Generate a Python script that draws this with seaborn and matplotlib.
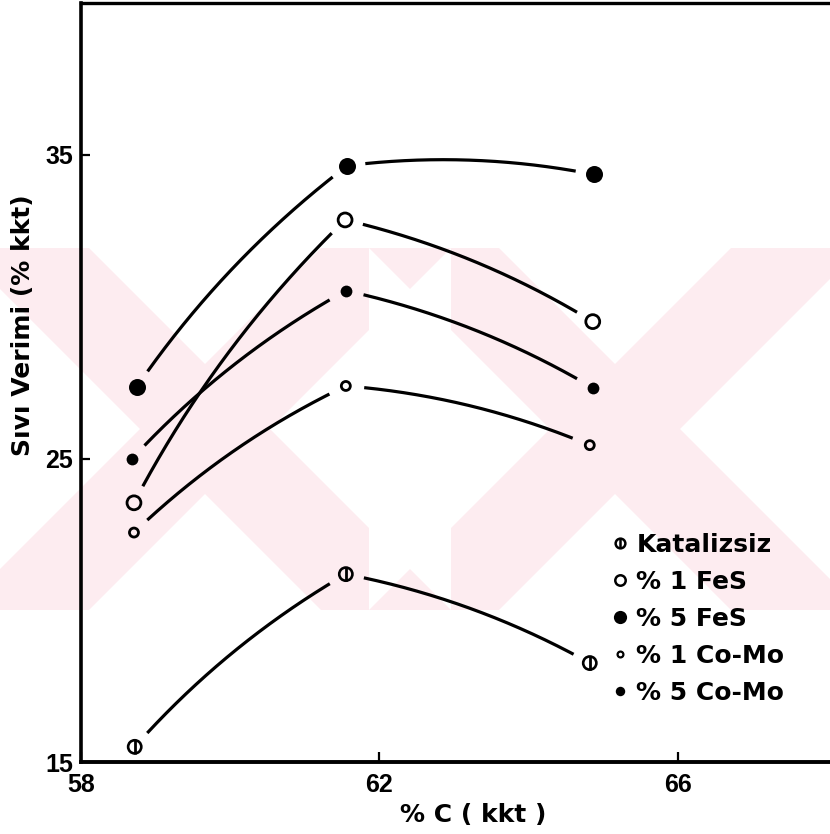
import numpy as np
import pandas as pd
import matplotlib
matplotlib.use("Agg")
import matplotlib.pyplot as plt
import seaborn as sns
from matplotlib.lines import Line2D
from matplotlib.patches import Polygon
from matplotlib.legend_handler import HandlerTuple

# ---------------- data ----------------
labels = ["Katalizsiz", "% 1 FeS", "% 5 FeS", "% 1 Co-Mo", "% 5 Co-Mo"]
x_katalizsiz = [58.72, 61.55, 64.82]
y_katalizsiz = [15.50, 21.19, 18.26]
x_fes1 = [58.71, 61.54, 64.86]
y_fes1 = [23.54, 32.86, 29.51]
x_fes5 = [58.75, 61.57, 64.87]
y_fes5 = [27.37, 34.65, 34.36]
x_como1 = [58.71, 61.55, 64.82]
y_como1 = [22.56, 27.39, 25.44]
x_como5 = [58.68, 61.55, 64.86]
y_como5 = [24.98, 30.53, 27.33]

x_ticks = [58, 62, 66]
y_ticks = [15, 25, 35]
x_label = "% C ( kkt )"
y_label = "Sıvı Verimi (% kkt)"

# ---------------- figure ----------------
sns.set_theme(style="white")
plt.rcParams["font.family"] = ["DejaVu Sans"]

W, H = 830, 834
fig = plt.figure(figsize=(W / 100, H / 100), dpi=100)
fig.patch.set_facecolor("white")

# faint watermark (two pink X shapes)
pink = "#fdecf0"
top, bot = 248, 610
def fpoly(pts, color, z):
    p = Polygon([(x / W, 1 - y / H) for x, y in pts], closed=True,
                transform=fig.transFigure, facecolor=color, edgecolor="none",
                zorder=z)
    fig.patches.append(p)

fpoly([(0, top), (W, top), (W, bot), (0, bot)], pink, 0)
cy = (top + bot) / 2
half = (bot - top) / 2
d = 65
for cx in (205, 615):
    a = cy - d - top
    fpoly([(cx, cy - d), (cx - a, top), (cx + a, top)], "white", 0.5)
    fpoly([(cx, cy + d), (cx - a, bot), (cx + a, bot)], "white", 0.5)
    fpoly([(cx + d, cy), (cx + d + half, top), (cx + d + half, bot)], "white", 0.5)
    fpoly([(cx - d, cy), (cx - d - half, top), (cx - d - half, bot)], "white", 0.5)

ax = fig.add_axes([81 / W, 1 - 762 / H, (W - 81) / W, (762 - 3) / H])
ax.set_zorder(2)
ax.set_facecolor("none")
ax.patch.set_alpha(0)
ax.set_xlim(58, 58 + 749 / 74.6)
ax.set_ylim(15, 15 + 759 / 30.35)

for side in ("left", "bottom", "top"):
    ax.spines[side].set_visible(True)
    ax.spines[side].set_color("black")
ax.spines["left"].set_linewidth(2.6)
ax.spines["bottom"].set_linewidth(2.8)
ax.spines["top"].set_linewidth(2.4)
ax.spines["right"].set_visible(False)

ax.set_xticks(x_ticks)
ax.set_yticks(y_ticks)
ax.set_xticklabels([str(v) for v in x_ticks])
ax.set_yticklabels([str(v) for v in y_ticks])
ax.tick_params(axis="x", direction="in", length=7, width=1.6, pad=8,
               colors="black", bottom=True, top=False)
ax.tick_params(axis="y", direction="in", length=6.5, width=1.6, pad=5.5,
               colors="black", left=True, right=False)
for t in ax.get_xticklabels() + ax.get_yticklabels():
    t.set_fontfamily(["Liberation Sans", "DejaVu Sans"])
    t.set_fontweight("bold")
    t.set_fontsize(18)

ax.set_xlabel(x_label, fontsize=18, fontweight="bold", color="black")
ax.set_ylabel(y_label, fontsize=18, fontweight="bold", color="black")
ax.xaxis.set_label_coords((473 - 81) / 749, (762 - 815) / 759)
ax.xaxis.label.set_va("center")
ax.yaxis.set_label_coords((23 - 81) / 749, (762 - 325) / 759)
ax.yaxis.label.set_va("center")
ax.yaxis.label.set_ha("center")

# ---------------- smooth hand-drawn style curves ----------------
def arc_curve(xs, ys, gap=18, sag_frac=0.04):
    pts = ax.transData.transform(np.column_stack([xs, ys]))
    for p0, p1 in zip(pts[:-1], pts[1:]):
        chord = p1 - p0
        L = np.hypot(*chord)
        n = np.array([-chord[1], chord[0]]) / L
        if n[1] < 0:
            n = -n
        ctrl = (p0 + p1) / 2 + n * 2 * sag_frac * L
        t = np.linspace(0, 1, 400)[:, None]
        b = (1 - t) ** 2 * p0 + 2 * (1 - t) * t * ctrl + t ** 2 * p1
        seg = np.hypot(*np.diff(b, axis=0).T)
        s = np.concatenate([[0], np.cumsum(seg)])
        keep = (s > gap) & (s < s[-1] - gap)
        dd = ax.transData.inverted().transform(b[keep])
        ax.plot(dd[:, 0], dd[:, 1], color="black", lw=2.3,
                solid_capstyle="butt", zorder=3)

for xs, ys in [(x_katalizsiz, y_katalizsiz), (x_fes1, y_fes1),
               (x_fes5, y_fes5), (x_como1, y_como1), (x_como5, y_como5)]:
    arc_curve(xs, ys)

# ---------------- markers ----------------
sns.scatterplot(x=x_katalizsiz, y=y_katalizsiz, marker="o", s=90,
                color="black", facecolor="none", edgecolor="black",
                linewidth=1.9, ax=ax, zorder=5)
sns.scatterplot(x=x_katalizsiz, y=y_katalizsiz, marker="|", s=95,
                color="black", linewidth=2.0, ax=ax, zorder=5)
sns.scatterplot(x=x_fes1, y=y_fes1, marker="o", s=100,
                color="black", facecolor="none", edgecolor="black",
                linewidth=2.0, ax=ax, zorder=5)
sns.scatterplot(x=x_fes5, y=y_fes5, marker="o", s=150,
                color="black", edgecolor="black", linewidth=0, ax=ax, zorder=5)
sns.scatterplot(x=x_como1, y=y_como1, marker="o", s=42,
                color="black", facecolor="none", edgecolor="black",
                linewidth=2.0, ax=ax, zorder=5)
sns.scatterplot(x=x_como5, y=y_como5, marker="o", s=72,
                color="black", edgecolor="black", linewidth=0, ax=ax, zorder=5)

# ---------------- legend ----------------
h_kat = (Line2D([], [], ls="none", marker="o", ms=7, mfc="none", mec="black", mew=1.8),
         Line2D([], [], ls="none", marker="|", ms=7.5, mec="black", mew=1.8))
h_fes1 = Line2D([], [], ls="none", marker="o", ms=7.5, mfc="none", mec="black", mew=1.8)
h_fes5 = Line2D([], [], ls="none", marker="o", ms=9.5, mfc="black", mec="black", mew=0)
h_como1 = Line2D([], [], ls="none", marker="o", ms=4.2, mfc="none", mec="black", mew=1.6)
h_como5 = Line2D([], [], ls="none", marker="o", ms=6.8, mfc="black", mec="black", mew=0)

leg = ax.legend([h_kat, h_fes1, h_fes5, h_como1, h_como5], labels,
                handler_map={tuple: HandlerTuple(ndivide=1, pad=0)},
                loc="upper left", bbox_to_anchor=(610 / W, 1 - 533 / H),
                bbox_transform=fig.transFigure, frameon=False,
                prop={"family": "DejaVu Sans", "weight": "bold", "size": 18},
                handlelength=0.8, handletextpad=0.25, labelspacing=0.52,
                borderpad=0, borderaxespad=0)
for t in leg.get_texts():
    t.set_color("black")

fig.savefig("out.png", dpi=100, facecolor="white")
